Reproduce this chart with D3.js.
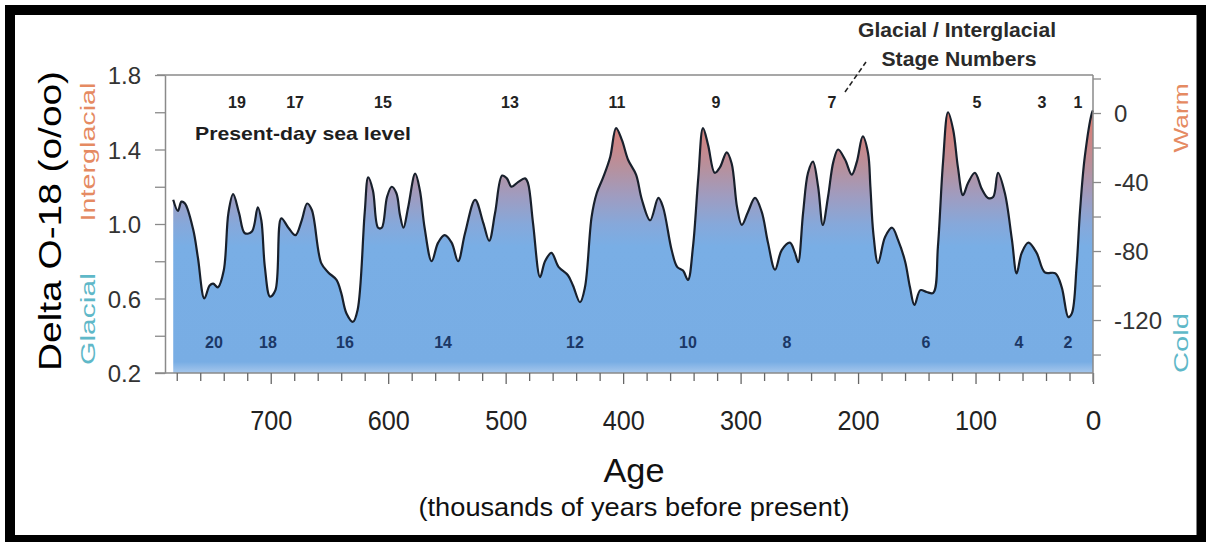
<!DOCTYPE html>
<html>
<head>
<meta charset="utf-8">
<title>Delta O-18 record</title>
<script src="https://d3js.org/d3.v7.min.js"></script>
<style>
  html, body { margin: 0; padding: 0; background: #fff; }
  svg { display: block; font-family: "Liberation Sans", Arial, sans-serif; }
</style>
</head>
<body>
<div id="chart"></div>
<script>
// age in thousands of years before present, oldest first
const ages = [783, 779, 776, 773, 766, 762, 756.5, 752, 749, 745, 740, 736, 732, 727, 722, 716, 711, 708, 705, 700.6,
  696, 691, 685, 679, 673.6, 669, 665, 657, 651, 644, 640, 635.5, 630, 626, 620, 617, 613, 608.6, 605.5, 601,
  597, 593, 590, 587, 583, 577, 573, 569, 563, 557.5, 552, 546, 540.5, 534.6, 526, 519, 514, 509, 503, 499,
  495, 489.5, 483.5, 481, 476.7, 470.7, 466.5, 461, 455, 447, 442.7, 436.7, 432.5, 426.8, 422.5, 417, 411, 406, 401, 395.8,
  389, 384, 377, 370, 366, 358.7, 354, 349, 344.8, 340.5, 336, 332, 327.7, 322, 317.5, 311.8, 307.6, 303, 299, 293.7,
  287.7, 282, 276.7, 270.7, 265, 258, 253.7, 251, 246.8, 242.6, 238.4, 234, 230, 225.6, 221, 217, 211, 205.4, 201, 196,
  191.5, 189.5, 187, 183, 177, 171, 166, 160, 155.8, 152, 147, 141.6, 136, 132, 127.7, 123.4, 119, 115, 110.7, 106.4,
  100.5, 94.8, 89.4, 85, 80.9, 75, 69, 65, 60.7, 55, 48, 41, 32, 26.6, 21, 18, 14, 11, 7, 1, 0];

const delta = [1.13, 1.07, 1.12, 1.11, 0.97, 0.82, 0.60, 0.67, 0.68, 0.66, 0.75, 1.06, 1.16, 1.06, 0.95, 0.96, 1.09, 1.02, 0.77, 0.61,
  0.645, 1.03, 0.98, 0.94, 1.02, 1.11, 1.075, 0.79, 0.74, 0.70, 0.63, 0.52, 0.475, 0.54, 1.06, 1.25, 1.18, 0.98, 0.98, 1.145,
  1.20, 1.165, 1.05, 0.98, 1.09, 1.27, 1.18, 0.98, 0.80, 0.90, 0.94, 0.90, 0.80, 0.95, 1.13, 1.005, 0.91, 1.06, 1.26, 1.245,
  1.20, 1.225, 1.245, 1.22, 1.005, 0.715, 0.80, 0.845, 0.77, 0.725, 0.67, 0.58, 0.66, 1.04, 1.165, 1.25, 1.36, 1.515, 1.45, 1.345,
  1.265, 1.13, 1.02, 1.14, 1.09, 0.86, 0.77, 0.75, 0.70, 0.88, 1.25, 1.515, 1.425, 1.275, 1.305, 1.385, 1.325, 1.09, 0.995, 1.065,
  1.14, 1.065, 0.90, 0.755, 0.86, 0.90, 0.845, 0.795, 1.06, 1.275, 1.335, 1.20, 0.995, 1.145, 1.335, 1.40, 1.345, 1.265, 1.335, 1.47,
  1.38, 1.20, 0.95, 0.79, 0.93, 0.98, 0.915, 0.80, 0.66, 0.565, 0.645, 0.635, 0.63, 0.88, 1.33, 1.60, 1.505, 1.305, 1.155, 1.22,
  1.275, 1.19, 1.14, 1.145, 1.275, 1.165, 0.915, 0.735, 0.845, 0.90, 0.845, 0.74, 0.735, 0.66, 0.50, 0.52, 0.77, 1.075, 1.36, 1.595, 1.61];

// marine isotope stage numbers and where they sit (kyr)
const warmStages = ["19", "17", "15", "13", "11", "9", "7", "5", "3", "1"];
const warmAges = [728.7, 679.3, 604.4, 496.3, 405.2, 320.9, 222.2, 98.7, 43.4, 12.8];
const coldStages = ["20", "18", "16", "14", "12", "10", "8", "6", "4", "2"];
const coldAges = [748.3, 702.3, 636.8, 553.3, 441, 344.8, 260.5, 142.2, 63, 21.3];

const xTicks = d3.range(0, 781, 20);
const xLabels = [700, 600, 500, 400, 300, 200, 100, 0];
const leftTicks = [0.2, 0.4, 0.6, 0.8, 1.0, 1.2, 1.4, 1.6, 1.8];
const leftLabels = [0.2, 0.6, 1.0, 1.4, 1.8];
const rightTicks = [-140, -120, -100, -80, -60, -40, -20, 0, 20];
const rightLabels = [-120, -80, -40, 0];

const W = 1206, H = 542;
const plot = { left: 165, right: 1093, top: 75, bottom: 373 };

const svg = d3.select("#chart").append("svg")
    .attr("width", W)
    .attr("height", H);

svg.append("rect").attr("width", W).attr("height", H).attr("fill", "#fff");

const x = d3.scaleLinear().domain([790, 0]).range([plot.left, plot.right]);
const y = d3.scaleLinear().domain([0.2, 1.8]).range([plot.bottom, plot.top]);
const ySea = d3.scaleLinear().domain([-150.7, 22.03]).range([plot.bottom, plot.top]);

const data = ages.map((a, i) => ({ age: a, v: delta[i] }));

// gradient: salmon on the warm peaks, blue below
const grad = svg.append("defs").append("linearGradient")
    .attr("id", "fillGrad")
    .attr("gradientUnits", "userSpaceOnUse")
    .attr("x1", 0).attr("x2", 0)
    .attr("y1", plot.top).attr("y2", plot.bottom);
const stops = [
  [1.8, "#e07a6c"], [1.58, "#dc7e74"], [1.45, "#cd8585"], [1.3, "#b6919e"],
  [1.15, "#9f9cc0"], [1.0, "#86a8da"], [0.88, "#79aee5"], [0.26, "#78ade4"], [0.2, "#a6c7ec"]
];
stops.forEach(s => {
  grad.append("stop")
    .attr("offset", (y(s[0]) - plot.top) / (plot.bottom - plot.top))
    .attr("stop-color", s[1]);
});

const area = d3.area()
    .x(d => x(d.age))
    .y0(y(0.2))
    .y1(d => y(d.v))
    .curve(d3.curveCatmullRom.alpha(0.5));
const line = d3.line()
    .x(d => x(d.age))
    .y(d => y(d.v))
    .curve(d3.curveCatmullRom.alpha(0.5));

svg.append("path").datum(data)
    .attr("d", area)
    .attr("fill", "url(#fillGrad)");
svg.append("path").datum(data)
    .attr("d", line)
    .attr("fill", "none")
    .attr("stroke", "#18202c")
    .attr("stroke-width", 2.2);

// frame lines
const axisColor = "#8a8a8a";
svg.append("line").attr("x1", 157).attr("x2", plot.right).attr("y1", plot.top).attr("y2", plot.top)
    .attr("stroke", axisColor).attr("stroke-width", 1.5);

// bottom axis
const xAxis = svg.append("g")
    .attr("transform", `translate(0,${plot.bottom})`)
    .call(d3.axisBottom(x).tickValues(xTicks).tickSizeOuter(0)
      .tickFormat(d => xLabels.includes(d) ? d : ""));
xAxis.select(".domain").attr("stroke", axisColor).attr("stroke-width", 1.5)
    .attr("d", `M155,0H${plot.right}`);
xAxis.selectAll(".tick line").attr("stroke", "#666").attr("stroke-width", 1.3)
    .attr("y2", d => d % 100 === 0 ? 11 : 8);
xAxis.selectAll(".tick text")
    .attr("y", 57).attr("dy", 0)
    .attr("font-size", 28).attr("fill", "#222")
    .attr("textLength", 42).attr("lengthAdjust", "spacingAndGlyphs")
    .filter(d => d === 0).attr("textLength", null);

// left axis
const yAxis = svg.append("g")
    .attr("transform", `translate(${plot.left},0)`)
    .call(d3.axisLeft(y).tickValues(leftTicks).tickSize(10).tickSizeOuter(0)
      .tickFormat(d => leftLabels.some(l => Math.abs(l - d) < 1e-6) ? d3.format(".1f")(d) : ""));
yAxis.select(".domain").attr("stroke", axisColor).attr("stroke-width", 1.5);
yAxis.selectAll(".tick line").attr("stroke", axisColor).attr("stroke-width", 1.3);
yAxis.selectAll(".tick text")
    .attr("x", -24).attr("dy", "0.36em")
    .attr("font-size", 24).attr("fill", "#333");

// right axis (sea level, m)
const rAxis = svg.append("g")
    .attr("transform", `translate(${plot.right},0)`)
    .call(d3.axisRight(ySea).tickValues(rightTicks).tickSize(8).tickSizeOuter(0)
      .tickFormat(d => rightLabels.includes(d) ? d : ""));
rAxis.select(".domain").attr("stroke", axisColor).attr("stroke-width", 1.5)
    .attr("d", `M0,${plot.top}V382`);
rAxis.selectAll(".tick line").attr("stroke", axisColor).attr("stroke-width", 1.3);
rAxis.selectAll(".tick text")
    .attr("x", 21).attr("dy", "0.36em")
    .attr("font-size", 24).attr("fill", "#333");

// stage numbers
svg.append("g").selectAll("text")
  .data(warmStages)
  .join("text")
    .attr("x", (d, i) => x(warmAges[i]))
    .attr("y", 108)
    .attr("text-anchor", "middle")
    .attr("font-size", 16).attr("font-weight", "bold")
    .attr("fill", "#222")
    .text(d => d);
svg.append("g").selectAll("text")
  .data(coldStages)
  .join("text")
    .attr("x", (d, i) => x(coldAges[i]))
    .attr("y", 348)
    .attr("text-anchor", "middle")
    .attr("font-size", 16).attr("font-weight", "bold")
    .attr("fill", "#1b3766")
    .text(d => d);

svg.append("text")
    .attr("x", 195).attr("y", 140)
    .attr("font-size", 19).attr("font-weight", "bold").attr("fill", "#1e1e1e")
    .attr("textLength", 216).attr("lengthAdjust", "spacingAndGlyphs")
    .text("Present-day sea level");

// annotation
svg.append("text")
    .attr("x", 957).attr("y", 37).attr("text-anchor", "middle")
    .attr("font-size", 20).attr("font-weight", "bold").attr("fill", "#2a2a2a")
    .attr("textLength", 198).attr("lengthAdjust", "spacingAndGlyphs")
    .text("Glacial / Interglacial");
svg.append("text")
    .attr("x", 959).attr("y", 66).attr("text-anchor", "middle")
    .attr("font-size", 20).attr("font-weight", "bold").attr("fill", "#2a2a2a")
    .attr("textLength", 155).attr("lengthAdjust", "spacingAndGlyphs")
    .text("Stage Numbers");
svg.append("line")
    .attr("x1", 845).attr("y1", 92).attr("x2", 866).attr("y2", 62)
    .attr("stroke", "#222").attr("stroke-width", 1.6)
    .attr("stroke-dasharray", "5,3");

// left titles
svg.append("text")
    .attr("transform", "translate(61,221) rotate(-90)")
    .attr("text-anchor", "middle")
    .attr("font-size", 32).attr("fill", "#000")
    .attr("textLength", 300).attr("lengthAdjust", "spacingAndGlyphs")
    .text("Delta O-18 (o/oo)");
svg.append("text")
    .attr("transform", "translate(95,152) rotate(-90)")
    .attr("text-anchor", "middle")
    .attr("font-size", 21).attr("fill", "#e58a62")
    .attr("textLength", 139).attr("lengthAdjust", "spacingAndGlyphs")
    .text("Interglacial");
svg.append("text")
    .attr("transform", "translate(95,319) rotate(-90)")
    .attr("text-anchor", "middle")
    .attr("font-size", 21).attr("fill", "#5fb8c8")
    .attr("textLength", 92).attr("lengthAdjust", "spacingAndGlyphs")
    .text("Glacial");

// right titles
svg.append("text")
    .attr("transform", "translate(1188,118) rotate(-90)")
    .attr("text-anchor", "middle")
    .attr("font-size", 21).attr("fill", "#e58a62")
    .attr("textLength", 69).attr("lengthAdjust", "spacingAndGlyphs")
    .text("Warm");
svg.append("text")
    .attr("transform", "translate(1188,343) rotate(-90)")
    .attr("text-anchor", "middle")
    .attr("font-size", 21).attr("fill", "#5fb8c8")
    .attr("textLength", 60).attr("lengthAdjust", "spacingAndGlyphs")
    .text("Cold");

// x titles
svg.append("text")
    .attr("x", 634).attr("y", 482).attr("text-anchor", "middle")
    .attr("font-size", 34).attr("fill", "#111")
    .attr("textLength", 61).attr("lengthAdjust", "spacingAndGlyphs")
    .text("Age");
svg.append("text")
    .attr("x", 634).attr("y", 516).attr("text-anchor", "middle")
    .attr("font-size", 25).attr("fill", "#111")
    .attr("textLength", 431).attr("lengthAdjust", "spacingAndGlyphs")
    .text("(thousands of years before present)");

// outer black frame
svg.append("rect")
    .attr("x", 10).attr("y", 10)
    .attr("width", 1191.5).attr("height", 530)
    .attr("fill", "none")
    .attr("stroke", "#000").attr("stroke-width", 10);
</script>
</body>
</html>
